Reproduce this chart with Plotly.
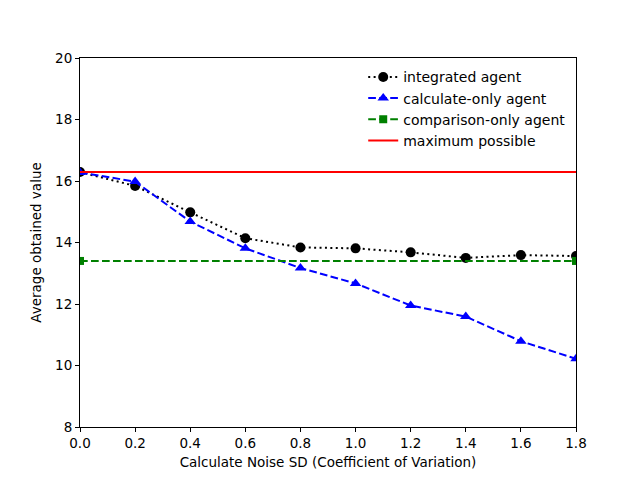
import plotly.graph_objects as go

noise_sd = [0.0, 0.2, 0.4, 0.6, 0.8, 1.0, 1.2, 1.4, 1.6, 1.8]
integrated = [16.29, 15.84, 14.98, 14.14, 13.84, 13.81, 13.68, 13.50, 13.59, 13.56]
calculate_only = [16.28, 15.98, 14.68, 13.81, 13.17, 12.67, 11.95, 11.59, 10.79, 10.22]
comparison_x = [0.0, 1.8]
comparison_only = [13.40, 13.40]
max_x = [0.0, 1.8]
max_possible = [16.29, 16.29]

fig = go.Figure()

fig.add_trace(go.Scatter(
    x=noise_sd, y=integrated, mode='lines+markers', name='integrated agent',
    line=dict(color='black', dash='2px,3.4px', width=2),
    marker=dict(symbol='circle', size=10, color='black')
))
fig.add_trace(go.Scatter(
    x=noise_sd, y=calculate_only, mode='lines+markers', name='calculate-only agent',
    line=dict(color='blue', dash='7.7px,3.3px', width=2),
    marker=dict(symbol='triangle-up', size=10, color='blue')
))
fig.add_trace(go.Scatter(
    x=comparison_x, y=comparison_only, mode='lines+markers', name='comparison-only agent',
    line=dict(color='green', dash='7.7px,3.3px', width=2),
    marker=dict(symbol='square', size=8, color='green')
))
fig.add_trace(go.Scatter(
    x=max_x, y=max_possible, mode='lines', name='maximum possible',
    line=dict(color='red', width=2)
))

axis_style = dict(
    showgrid=False, zeroline=False, showline=True, linecolor='black', linewidth=1,
    mirror=True, ticks='outside', ticklen=4, tickcolor='black',
    tickfont=dict(size=13.5, color='black')
)

# the page body has an 8px margin, so the margins are shifted by 8px
fig.update_layout(
    width=640, height=480,
    margin=dict(l=72, r=72, t=50, b=61),
    paper_bgcolor='white', plot_bgcolor='white',
    font=dict(family='DejaVu Sans', size=13.5, color='black'),
    xaxis=dict(range=[0, 1.8], tickvals=noise_sd, tickformat='.1f',
               title=dict(text='Calculate Noise SD (Coefficient of Variation)', standoff=7,
                          font=dict(size=13.5, color='black')),
               **axis_style),
    yaxis=dict(range=[8, 20], dtick=2,
               title=dict(text='Average obtained value', standoff=10,
                          font=dict(size=13.5, color='black')),
               **axis_style),
    legend=dict(x=0.571, y=0.991, xanchor='left', yanchor='top',
                bgcolor='rgba(0,0,0,0)', font=dict(size=14),
                tracegroupgap=0, itemwidth=30),
    showlegend=True
)

fig.write_html("out.html")
